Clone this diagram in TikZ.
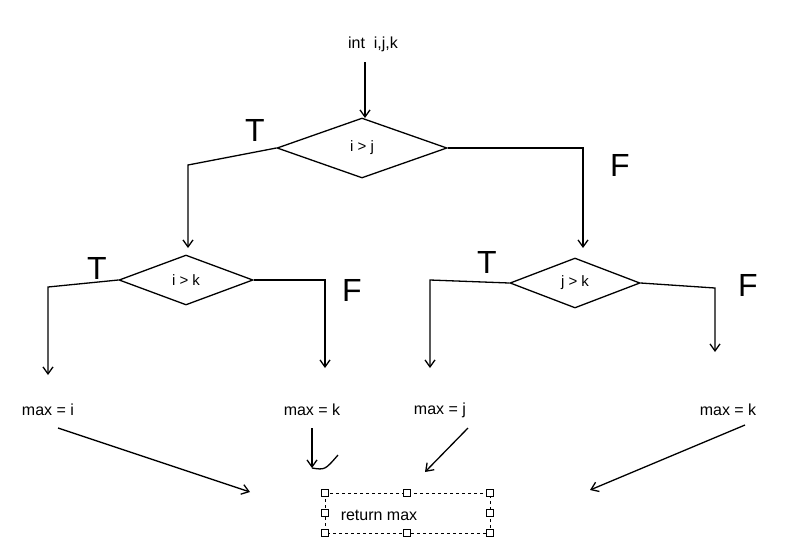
\documentclass[tikz,border=0pt]{standalone}
\usepackage{fontspec}
\setmainfont{Liberation Sans}
\usetikzlibrary{shapes.geometric,arrows.meta}
\begin{document}
\begin{tikzpicture}[x=1pt,y=-1pt,
  ln/.style={line width=1.3pt,black},
  arr/.style={ln,-{Straight Barb[length=7pt,width=10pt]}},
  dia/.style={diamond,draw,line width=1.3pt,aspect=2.8,inner sep=1pt,font=\fontsize{15}{17}\selectfont},
  lab/.style={font=\fontsize{16}{18}\selectfont},
  big/.style={font=\fontsize{32}{34}\selectfont}]
\useasboundingbox (0,0) rectangle (803,550);
\node[lab] (in) at (373,44) {int\ \ i,j,k};
\node[dia,minimum width=170pt,minimum height=60pt] (d1) at (362,148) {i > j};
\node[dia,minimum width=134pt,minimum height=50pt] (d2) at (186,280) {i > k};
\node[dia,minimum width=130pt,minimum height=50pt] (d3) at (575,283) {j > k};
\node[big] (t1) at (255,130) {T};
\node[big] (f1) at (620,165) {F};
\node[big] (t2) at (97,268) {T};
\node[big] (f2) at (352,290) {F};
\node[big] (t3) at (487,262) {T};
\node[big] (f3) at (748,285) {F};
\node[lab] (mi) at (48,410) {max = i};
\node[lab] (mk1) at (312,410) {max = k};
\node[lab] (mj) at (440,410) {max = j};
\node[lab] (mk2) at (728,410) {max = k};
\node[lab] (ret) at (379,515) {return max};
\draw[arr] (365,62) -- (365,118);
\draw[arr] (d1.west) -- (188,165) -- (188,248);
\draw[arr] (d1.east) -- (583,148) -- (583,248);
\draw[arr] (d2.west) -- (48,287) -- (48,375);
\draw[arr] (d2.east) -- (325,280) -- (325,368);
\draw[arr] (d3.west) -- (430,280) -- (430,368);
\draw[arr] (d3.east) -- (715,288) -- (715,352);
\coordinate (a1) at (250,492);
\coordinate (a2) at (312,468);
\coordinate (a3) at (425,472);
\coordinate (a4) at (590,490);
\draw[arr] (58,428) -- (a1);
\draw[arr] (312,428) -- (a2);
\draw[ln] (a2) .. controls (325,470) .. (338,455);
\draw[arr] (468,428) -- (a3);
\draw[arr] (745,425) -- (a4);
\draw[dashed,line width=0.7pt] (325,493) rectangle (490,533);
\foreach \p in {(325,493),(407,493),(490,493),(325,513),(490,513),(325,533),(407,533),(490,533)}
  \draw[fill=white,line width=0.7pt] \p ++(-3.5,-3.5) rectangle ++(7,7);
\end{tikzpicture}
\end{document}
